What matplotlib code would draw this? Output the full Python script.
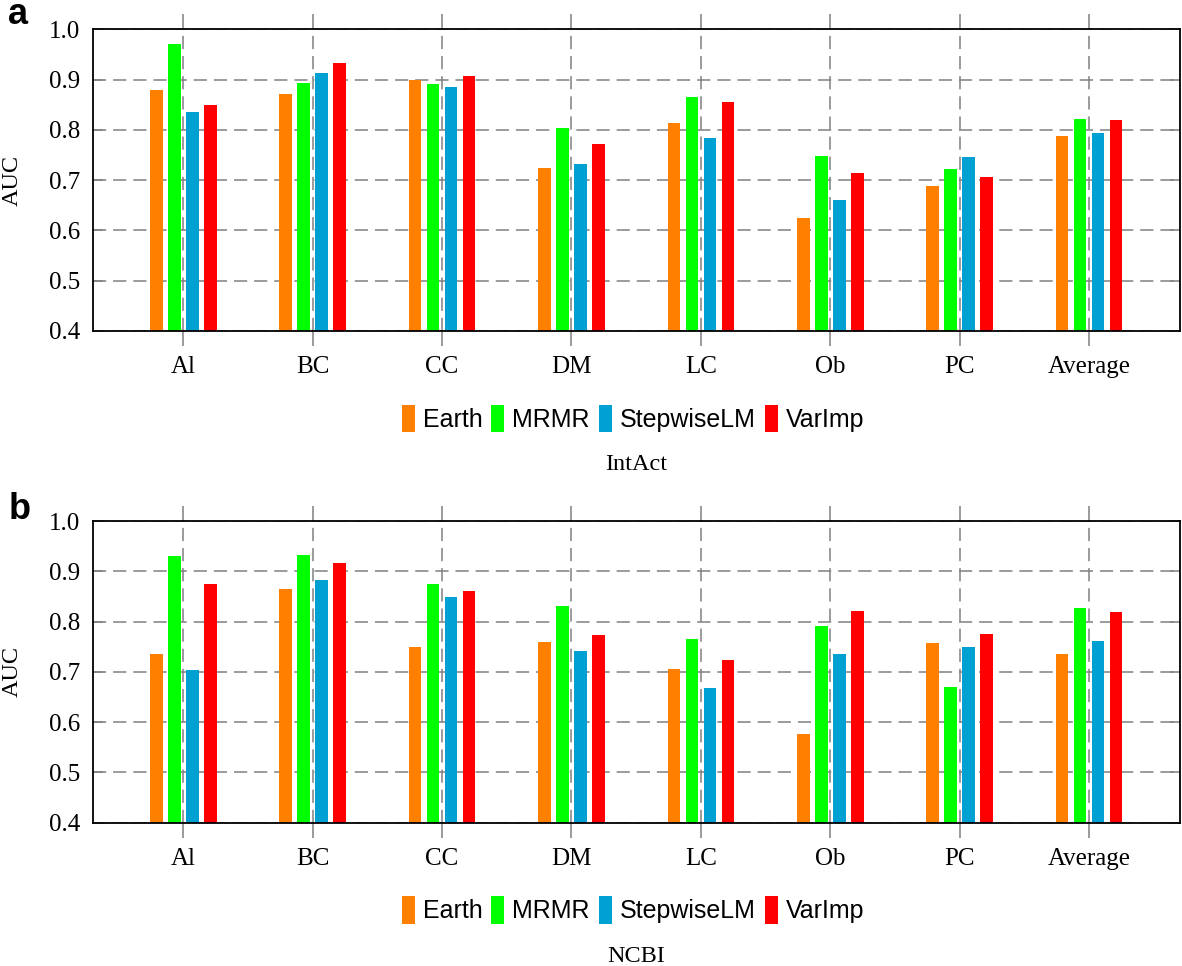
import matplotlib
matplotlib.use('Agg')
import matplotlib.pyplot as plt
import numpy as np

categories = ['Al', 'BC', 'CC', 'DM', 'LC', 'Ob', 'PC', 'Average']
methods = ['Earth', 'MRMR', 'StepwiseLM', 'VarImp']
colors = ['#ff8000', '#00ff00', '#00a0d2', '#ff0000']

# panel a: IntAct
intact_earth = [0.879, 0.872, 0.900, 0.725, 0.814, 0.625, 0.688, 0.787]
intact_mrmr = [0.970, 0.893, 0.891, 0.803, 0.865, 0.748, 0.723, 0.821]
intact_stepwise = [0.836, 0.914, 0.885, 0.733, 0.783, 0.660, 0.746, 0.794]
intact_varimp = [0.850, 0.933, 0.908, 0.772, 0.855, 0.714, 0.706, 0.820]

# panel b: NCBI
ncbi_earth = [0.735, 0.864, 0.749, 0.759, 0.705, 0.577, 0.757, 0.735]
ncbi_mrmr = [0.930, 0.932, 0.875, 0.832, 0.765, 0.791, 0.669, 0.827]
ncbi_stepwise = [0.703, 0.883, 0.848, 0.742, 0.667, 0.735, 0.750, 0.761]
ncbi_varimp = [0.874, 0.916, 0.861, 0.773, 0.724, 0.822, 0.775, 0.820]

yticks = [0.4, 0.5, 0.6, 0.7, 0.8, 0.9, 1.0]

plt.rcParams['lines.scale_dashes'] = False
serif = ['Liberation Serif', 'DejaVu Serif']
sans = ['Liberation Sans', 'DejaVu Sans']


def draw_panel(ax, series, xlabel, letter, letter_y):
    x = np.arange(len(categories))
    width = 0.097
    step = 0.139
    for i, (name, vals) in enumerate(zip(methods, series)):
        ax.bar(x + (i - 1.5) * step, vals, width, color=colors[i],
               label=name, zorder=3)

    ax.set_xlim(-0.7, 7.7)
    ax.set_ylim(0.4, 1.0)
    ax.set_xticks(x)
    ax.set_xticklabels(categories, family=serif, fontsize=18)
    ax.set_yticks(yticks)
    ax.set_yticklabels(['%.1f' % v for v in yticks], family=serif,
                       fontsize=18)
    ax.set_axisbelow(True)
    ax.grid(True, color='#808080', linestyle=(0, (9.5, 5)), linewidth=1.1)

    ax.tick_params(axis='x', direction='out', length=11, width=1.1,
                   color='#808080', top=True, bottom=True, pad=7)
    ax.tick_params(axis='y', direction='in', length=7, width=1.1,
                   color='#808080', left=True, right=True, pad=9)
    for sp in ax.spines.values():
        sp.set_linewidth(1.3)
        sp.set_color('black')
        sp.set_zorder(4)

    ax.text(-0.074, 0.5, 'AUC', transform=ax.transAxes, rotation=90,
            ha='center', va='center', family=serif, fontsize=17.5)

    ax.legend(loc='center', bbox_to_anchor=(0.497, -0.289), ncol=4,
              frameon=False, prop={'family': sans, 'size': 18},
              handlelength=0.52, handleheight=1.3, handletextpad=0.32,
              columnspacing=0.36, borderpad=0)

    ax.text(0.5, -0.443, xlabel, transform=ax.transAxes, ha='center',
            va='center', family=serif, fontsize=17.5)

    fig.text(0.007, letter_y, letter, ha='left', va='baseline',
             family=sans, fontsize=26, fontweight='bold')


fig = plt.figure(figsize=(11.82, 9.66), dpi=100)
ax_a = fig.add_axes([0.0784, 0.6574, 0.9196, 0.3123])
ax_b = fig.add_axes([0.0784, 0.1483, 0.9196, 0.3123])

draw_panel(ax_a, [intact_earth, intact_mrmr, intact_stepwise, intact_varimp],
           'IntAct', 'a', 0.975)
draw_panel(ax_b, [ncbi_earth, ncbi_mrmr, ncbi_stepwise, ncbi_varimp],
           'NCBI', 'b', 0.4627)

fig.savefig('out.png', dpi=100)
